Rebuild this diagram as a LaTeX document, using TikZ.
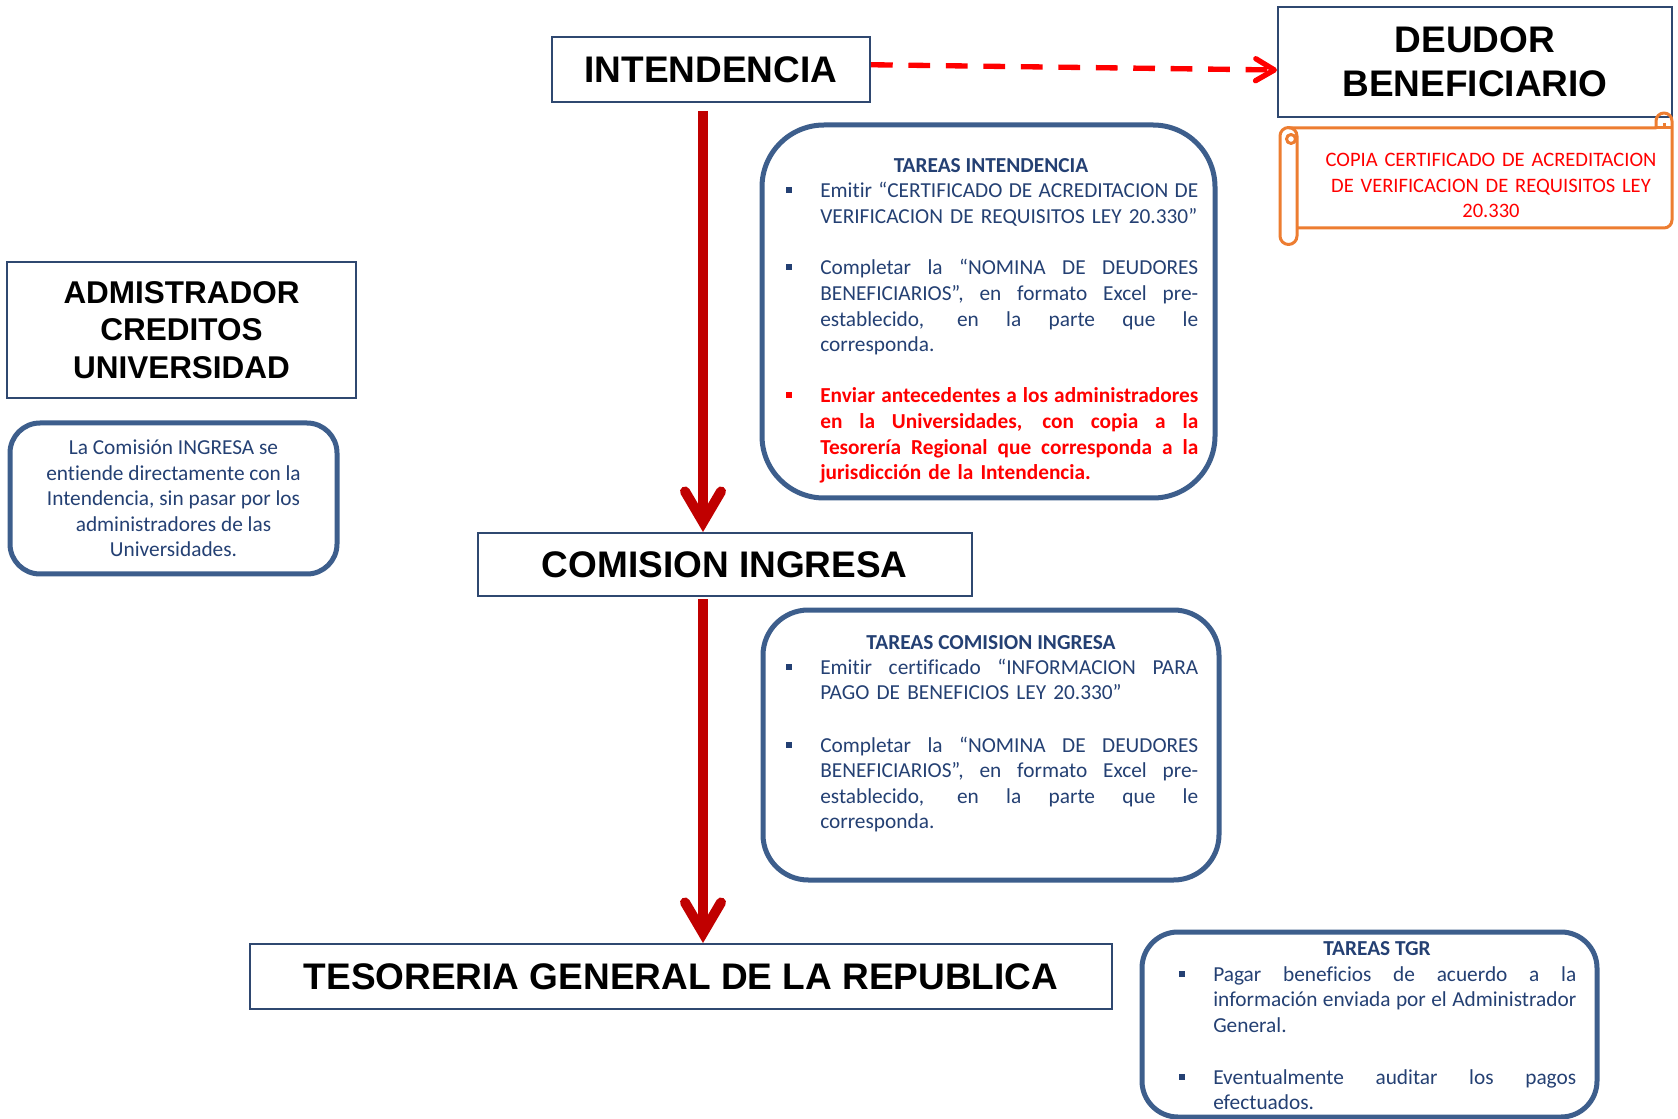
\documentclass[tikz,border=0pt]{standalone}
\usepackage{fontspec}
\setmainfont{Carlito}[Ligatures=NoCommon]
\newfontfamily\arialf{Liberation Sans}
\usetikzlibrary{arrows.meta}
\setlength{\parindent}{0pt}
\newlength\tw
\newcommand\jl[1]{{\spaceskip=\fontdimen2\font plus 1fil\relax\makebox[\tw][s]{#1}}\\}
\definecolor{boxblue}{RGB}{47,72,112}
\definecolor{rblue}{RGB}{61,94,140}
\definecolor{txtblue}{RGB}{36,64,115}
\definecolor{darkred}{RGB}{192,0,0}
\definecolor{orng}{RGB}{237,125,49}
\newcommand\bul[3]{\fill[#3] (#1-3,#2-10.5) rectangle (#1+3,#2-4.5);}
\begin{document}
\begin{tikzpicture}[x=0.75pt,y=-0.75pt,
  hbox/.style={draw=boxblue, line width=1.5pt, fill=white, inner sep=0pt, align=center,
    font=\arialf\bfseries\fontsize{27.75}{33}\selectfont},
  rbox/.style={draw=rblue, line width=3.75pt, fill=white, inner sep=0pt},
  ttl/.style={anchor=base, inner sep=0pt, text=txtblue, font=\bfseries\fontsize{16}{19.2}\selectfont},
  itm/.style={anchor=base west, inner sep=0pt, align=left, text=txtblue, font=\fontsize{16}{19.2}\selectfont},
  bigarrow/.style={draw=darkred, line width=7.5pt,
    -{Straight Barb[line cap=round, line join=miter, length=23pt, width=27pt]}},
  dasharrow/.style={draw=red, line width=4pt, dash pattern=on 16.3pt off 11.8pt,
    -{Straight Barb[round, length=14pt, width=16.5pt]}},
  scroll/.style={draw=orng, line width=2.25pt, line join=round}
]
\fill[white] (0,0) rectangle (1678,1119);
\useasboundingbox (0,0) rectangle (1678,1119);

% heading boxes
\node[hbox, minimum width=318*0.75pt, minimum height=64.5*0.75pt] (int) at (711,69.75) {INTENDENCIA};
\node[hbox, minimum width=394*0.75pt, minimum height=110*0.75pt] (deu) at (1475,62) {DEUDOR\\BENEFICIARIO};
\node[hbox, minimum width=349*0.75pt, minimum height=136*0.75pt,
  font=\arialf\bfseries\fontsize{23.6}{28.1}\selectfont] (adm) at (181.5,330) {ADMISTRADOR\\CREDITOS\\UNIVERSIDAD};
\node[hbox, minimum width=494.5*0.75pt, minimum height=63*0.75pt] (com) at (724.75,564.5) {COMISION INGRESA};
\node[hbox, minimum width=862*0.75pt, minimum height=65*0.75pt] (tgr) at (681,976.5) {TESORERIA GENERAL DE LA REPUBLICA};

% note box
\node[rbox, minimum width=327*0.75pt, minimum height=151*0.75pt, rounded corners=22.5pt,
  align=center, text=txtblue, font=\fontsize{16}{19.2}\selectfont] (nb) at (173.5,498.5)
  {La Comisión INGRESA se\\entiende directamente con la\\Intendencia, sin pasar por los\\administradores de las\\Universidades.};

% task boxes
\node[rbox, minimum width=453*0.75pt, minimum height=373*0.75pt, rounded corners=46.5pt] (ti) at (988.5,311.5) {};
\node[rbox, minimum width=456*0.75pt, minimum height=270*0.75pt, rounded corners=34pt] (tc) at (991,745) {};
\node[rbox, minimum width=455*0.75pt, minimum height=185*0.75pt, rounded corners=27pt] (tt) at (1369.5,1024.5) {};

% Tareas intendencia
\setlength\tw{283.5pt}
\node[ttl] (ti0) at (991,173) {TAREAS INTENDENCIA};
\bul{788.5}{198}{txtblue}
\node[itm, text width=283.5pt] (ti1) at (820,198) {\jl{Emitir “CERTIFICADO DE ACREDITACION DE}VERIFICACION DE REQUISITOS LEY 20.330”};
\bul{788.5}{275}{txtblue}
\node[itm, text width=283.5pt] (ti2) at (820,275) {\jl{Completar la “NOMINA DE DEUDORES}\jl{BENEFICIARIOS”, en formato Excel pre-}\jl{establecido, en la parte que le}corresponda.};
\bul{788.5}{403}{red}
\node[itm, text width=283.5pt, text=red, font=\bfseries\fontsize{16}{19.2}\selectfont] (ti3) at (820,403)
  {\jl{Enviar antecedentes a los administradores}\jl{en la Universidades, con copia a la}\jl{Tesorería Regional que corresponda a la}jurisdicción de la Intendencia.};

% Tareas comision
\node[ttl] (tc0) at (991,649) {TAREAS COMISION INGRESA};
\bul{788.5}{674}{txtblue}
\node[itm, text width=283.5pt] (tc1) at (820,674) {\jl{Emitir certificado “INFORMACION PARA}PAGO DE BENEFICIOS LEY 20.330”};
\bul{788.5}{752}{txtblue}
\node[itm, text width=283.5pt] (tc2) at (820,752) {\jl{Completar la “NOMINA DE DEUDORES}\jl{BENEFICIARIOS”, en formato Excel pre-}\jl{establecido, en la parte que le}corresponda.};

% Tareas TGR
\setlength\tw{272.25pt}
\node[ttl] (tt0) at (1377,955) {TAREAS TGR};
\bul{1181.5}{981}{txtblue}
\node[itm, text width=272.25pt] (tt1) at (1213,981) {\jl{Pagar beneficios de acuerdo a la}\jl{información enviada por el Administrador}General.};
\bul{1181.5}{1084}{txtblue}
\node[itm, text width=272.25pt] (tt2) at (1213,1084) {\jl{Eventualmente auditar los pagos}efectuados.};

% scroll
\draw[scroll] (1280,136) arc[start angle=180, end angle=360, radius=8.5] -- (1297,236) arc[start angle=0, end angle=180, radius=8.5] -- cycle;
\draw[scroll] (1291,139) circle (4.5);
\draw[scroll] (1288.5,128) -- (1656,128) -- (1656,121) arc[start angle=180, end angle=360, radius=8] -- (1672,220) arc[start angle=0, end angle=90, radius=8] -- (1297,228);
\draw[scroll] (1664,128) -- (1664,123);
\draw[scroll] (1656,128) -- (1672,128);
\node[anchor=base, inner sep=0pt, text width=285pt, align=center, text=red,
  font=\fontsize{15.4}{19.3}\selectfont] (sc) at (1491,166.5)
  {COPIA CERTIFICADO DE ACREDITACION\\DE VERIFICACION DE REQUISITOS LEY\\20.330};

% connectors
\coordinate (ax) at (703,0);
\draw[bigarrow, shorten <=6pt] (int.south -| ax) -- (com.north -| ax);
\draw[bigarrow, shorten <=1.5pt] (com.south -| ax) -- (tgr.north -| ax);
\draw[dasharrow] ([yshift=3.75pt]int.east) -- ([yshift=-6pt]deu.west);
\end{tikzpicture}
\end{document}
